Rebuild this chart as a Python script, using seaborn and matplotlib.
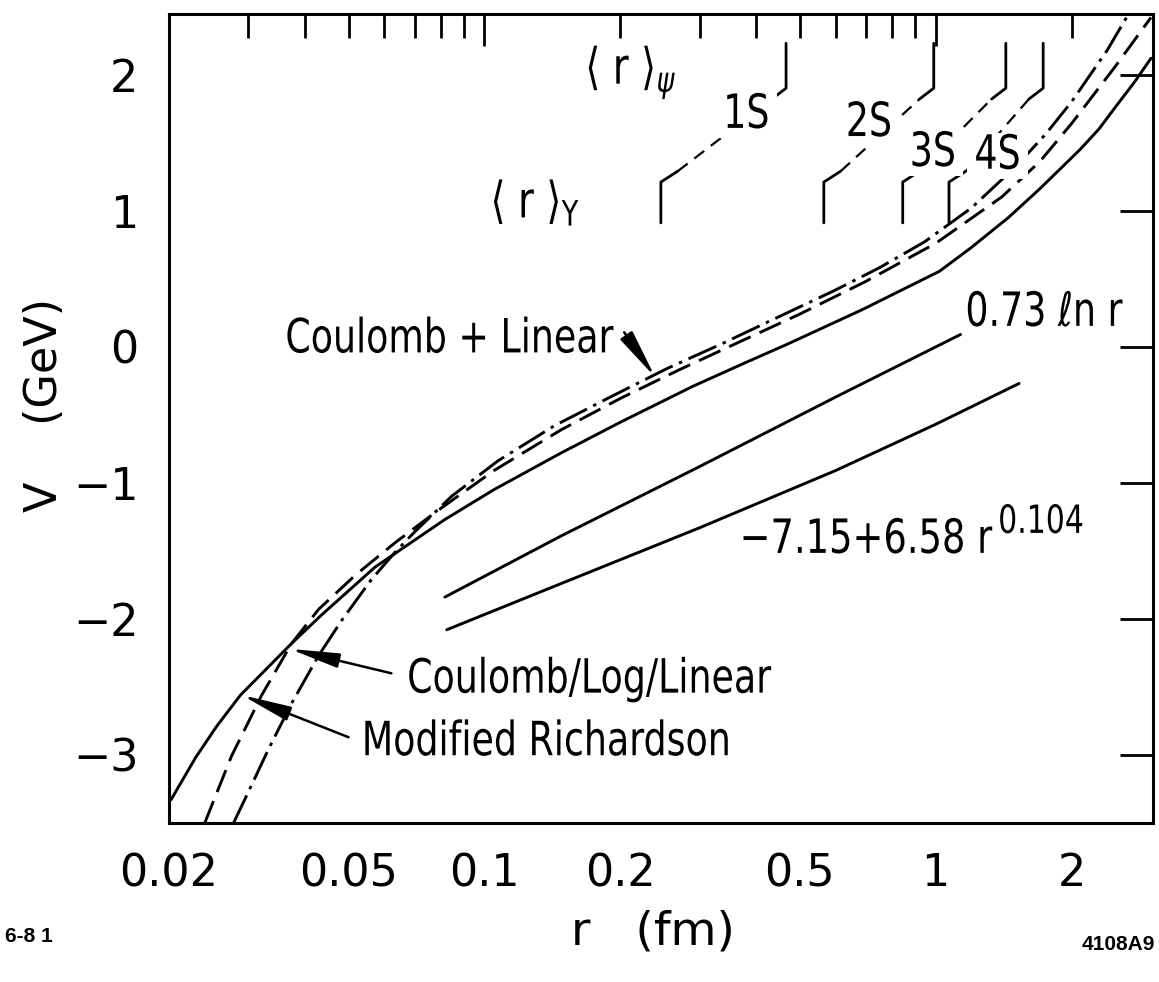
import matplotlib
matplotlib.use("Agg")
from matplotlib import pyplot as plt
from matplotlib import patheffects
from matplotlib.transforms import Affine2D
import seaborn as sns
import pandas as pd

# potentials: r in fm, V in GeV
r_solid = [0.0202, 0.0229, 0.0255, 0.0288, 0.0374, 0.0436, 0.0572, 0.0817, 0.105, 0.148, 0.20,
           0.29, 0.38, 0.47, 0.69, 1.02, 1.2, 1.45, 1.7, 2.09, 2.3, 2.5, 2.75, 3.0]
v_solid = [-3.33, -3.02, -2.79, -2.56, -2.18, -1.97, -1.62, -1.27, -1.05, -0.78, -0.555,
           -0.29, -0.115, 0.02, 0.275, 0.555, 0.73, 0.95, 1.16, 1.45, 1.60, 1.76, 1.94, 2.12]

r_cll = [0.0240, 0.0275, 0.0321, 0.0374, 0.0429, 0.0517, 0.0634, 0.0791, 0.105, 0.148,
         0.20, 0.27, 0.37, 0.50, 0.70, 1.0, 1.4, 1.7, 2.0, 2.5, 3.0]
v_cll = [-3.50, -3.01, -2.56, -2.18, -1.93, -1.68, -1.44, -1.20, -0.91, -0.61,
         -0.38, -0.17, 0.04, 0.24, 0.48, 0.76, 1.10, 1.36, 1.64, 2.06, 2.42]

r_cl = [0.0278, 0.030, 0.0332, 0.0374, 0.0429, 0.0483, 0.0562, 0.0634, 0.0696, 0.0845,
        0.107, 0.143, 0.19, 0.254, 0.34, 0.436, 0.594, 0.75, 0.944, 1.2, 1.5, 1.75, 2.0, 2.4, 2.68]
v_cl = [-3.50, -3.27, -2.96, -2.62, -2.27, -2.01, -1.71, -1.51, -1.37, -1.10,
        -0.84, -0.58, -0.37, -0.16, 0.03, 0.20, 0.41, 0.58, 0.77, 1.02, 1.32, 1.56, 1.80, 2.18, 2.45]

r_log = [0.0817, 0.148, 0.30, 0.60, 1.135]
v_log = [-1.84, -1.39, -0.88, -0.37, 0.09]

r_pow = [0.0825, 0.148, 0.30, 0.60, 1.0, 1.53]
v_pow = [-2.08, -1.74, -1.33, -0.91, -0.57, -0.27]

# <r> of the bound states
states = ["1S", "2S", "3S", "4S"]
r_psi = [0.466, 0.99, 1.43, 1.73]
r_ups = [0.246, 0.565, 0.845, 1.07]

x_major = [0.1, 1]
x_minor = [0.02, 0.03, 0.04, 0.05, 0.06, 0.07, 0.08, 0.09,
           0.2, 0.3, 0.4, 0.5, 0.6, 0.7, 0.8, 0.9, 2]
x_minor_labels = {0.02: "0.02", 0.05: "0.05", 0.2: "0.2", 0.5: "0.5", 2: "2"}
y_ticks = [-3, -2, -1, 0, 1, 2]


class Squeeze(patheffects.AbstractPathEffect):
    # narrows the glyphs, the old plotter lettering is condensed
    def __init__(self, sx=0.77, anchor="left"):
        super().__init__()
        self.sx = sx
        self.anchor = anchor

    def draw_path(self, renderer, gc, tpath, affine, rgbFace=None):
        ext = tpath.get_extents()
        cx = {"left": ext.x0, "center": (ext.x0 + ext.x1) / 2, "right": ext.x1}[self.anchor]
        sq = Affine2D().translate(-cx, 0).scale(self.sx, 1).translate(cx, 0)
        renderer.draw_path(gc, tpath, sq + affine, rgbFace)


sns.set_theme(style="white")
plt.rcParams["font.family"] = ["DejaVu Sans"]
plt.rcParams["mathtext.fontset"] = "dejavusans"
plt.rcParams["lines.scale_dashes"] = False
for key in ["text.color", "axes.labelcolor", "xtick.color", "ytick.color"]:
    plt.rcParams[key] = "black"

fig = plt.figure(figsize=(11.59, 9.82), dpi=100)
ax = fig.add_axes([169 / 1159, 1 - 823 / 982, 984 / 1159, 809 / 982])
ax.set_xscale("log")

lw = 2.1
curves = pd.DataFrame({
    "r": r_solid + r_cll + r_cl,
    "V": v_solid + v_cll + v_cl,
    "model": ["solid"] * len(r_solid) + ["cll"] * len(r_cll) + ["cl"] * len(r_cl),
})
styles = {"solid": "-", "cll": (0, (17, 7)), "cl": (0, (22, 5, 2.5, 5))}
for name, grp in curves.groupby("model"):
    sns.lineplot(data=grp, x="r", y="V", ax=ax, color="black", lw=lw,
                 linestyle=styles[name], sort=False, estimator=None)
sns.lineplot(x=r_log, y=v_log, ax=ax, color="black", lw=lw, sort=False, estimator=None)
sns.lineplot(x=r_pow, y=v_pow, ax=ax, color="black", lw=lw, sort=False, estimator=None)

# <r> markers: psi ones hang from the top, upsilon ones stand lower, joined by dashes
for st, rp, ru in zip(states, r_psi, r_ups):
    ax.plot([rp * 0.93, rp, rp], [1.82, 1.90, 2.23], color="black", lw=2)
    ax.plot([ru, ru, ru * 1.09], [0.91, 1.21, 1.29], color="black", lw=2)
    ax.plot([ru * 1.09, rp * 0.93], [1.29, 1.82], color="black", lw=1.6,
            linestyle=(0, (9, 6)))

texts = []
state_pos = {"1S": (0.380, 1.70), "2S": (0.711, 1.64), "3S": (0.985, 1.42), "4S": (1.371, 1.40)}
for st in states:
    t = ax.text(*state_pos[st], st, fontsize=34, ha="center", va="center",
                bbox=dict(fc="white", ec="none", pad=0.5))
    texts.append((t, "center", 0.77))

texts.append((ax.text(0.1664, 1.933, r"$\langle\ \mathregular{r}\ \rangle_{\psi}$",
                      fontsize=36, ha="left", va="baseline"), "left", 0.77))
texts.append((ax.text(0.1026, 0.95, r"$\langle\ \mathregular{r}\ \rangle_{\Upsilon}$",
                      fontsize=36, ha="left", va="baseline"), "left", 0.77))

# curve labels
arrow = dict(arrowstyle="-|>,head_length=1.5,head_width=0.22", color="black", lw=1.8,
             shrinkA=0, shrinkB=0, mutation_scale=20)
texts.append((ax.text(0.0361, 0.05, "Coulomb + Linear", fontsize=34, ha="left",
                      va="center"), "left", 0.77))
ax.annotate("", xy=(0.239, -0.224), xytext=(0.204, 0.106), arrowprops=arrow)
texts.append((ax.text(0.0672, -2.45, "Coulomb/Log/Linear", fontsize=34, ha="left",
                      va="center"), "left", 0.77))
ax.annotate("", xy=(0.0370, -2.22), xytext=(0.0622, -2.40), arrowprops=arrow)
texts.append((ax.text(0.0532, -2.91, "Modified Richardson", fontsize=34, ha="left",
                      va="center"), "left", 0.77))
ax.annotate("", xy=(0.0290, -2.56), xytext=(0.050, -2.87), arrowprops=arrow)
texts.append((ax.text(2.593, 0.245, "0.73 \u2113n r", fontsize=34, ha="right",
                      va="center"), "right", 0.77))
texts.append((ax.text(1.337, -1.515, "\u22127.15+6.58 r", fontsize=34, ha="right",
                      va="baseline"), "right", 0.78))
texts.append((ax.text(1.371, -1.368, "0.104", fontsize=28, ha="left",
                      va="baseline"), "left", 0.77))

ax.set_xlim(0.0202, 3.03)
ax.set_ylim(-3.5, 2.445)
ax.set_xticks(x_major)
ax.set_xticklabels(["0.1", "1"])
ax.set_xticks(x_minor, minor=True)
ax.set_xticklabels([x_minor_labels.get(v, "") for v in x_minor], minor=True)
ax.set_yticks(y_ticks)
ax.set_yticklabels([f"{v}".replace("-", "\u2212") for v in y_ticks])
ax.set_xlabel("")
ax.set_ylabel("")

ax.tick_params(axis="both", which="both", direction="in", top=True, right=True,
               width=2, colors="black", labelsize=32)
ax.tick_params(axis="y", which="major", length=24, pad=22)
ax.tick_params(axis="x", which="major", length=23, pad=21)
ax.tick_params(axis="x", which="minor", length=17, pad=21)
for sp in ax.spines.values():
    sp.set_linewidth(2.2)
    sp.set_color("black")

fig.text(45 / 1159, 1 - 405 / 982, "V    (GeV)", rotation=90, fontsize=32,
         ha="center", va="center")
fig.text(653 / 1159, 1 - 932 / 982, "r   (fm)", fontsize=34, ha="center", va="center")
fig.text(5 / 1159, 1 - 937 / 982, "6-8 1", fontsize=15, fontweight="bold",
         family="Liberation Sans", ha="left", va="center")
fig.text(1155 / 1159, 1 - 945 / 982, "4108A9", fontsize=15, fontweight="bold",
         family="Liberation Sans", ha="right", va="center")

for t, anchor, sx in texts:
    t.set_path_effects([Squeeze(sx, anchor)])

fig.savefig("out.png", dpi=100)
